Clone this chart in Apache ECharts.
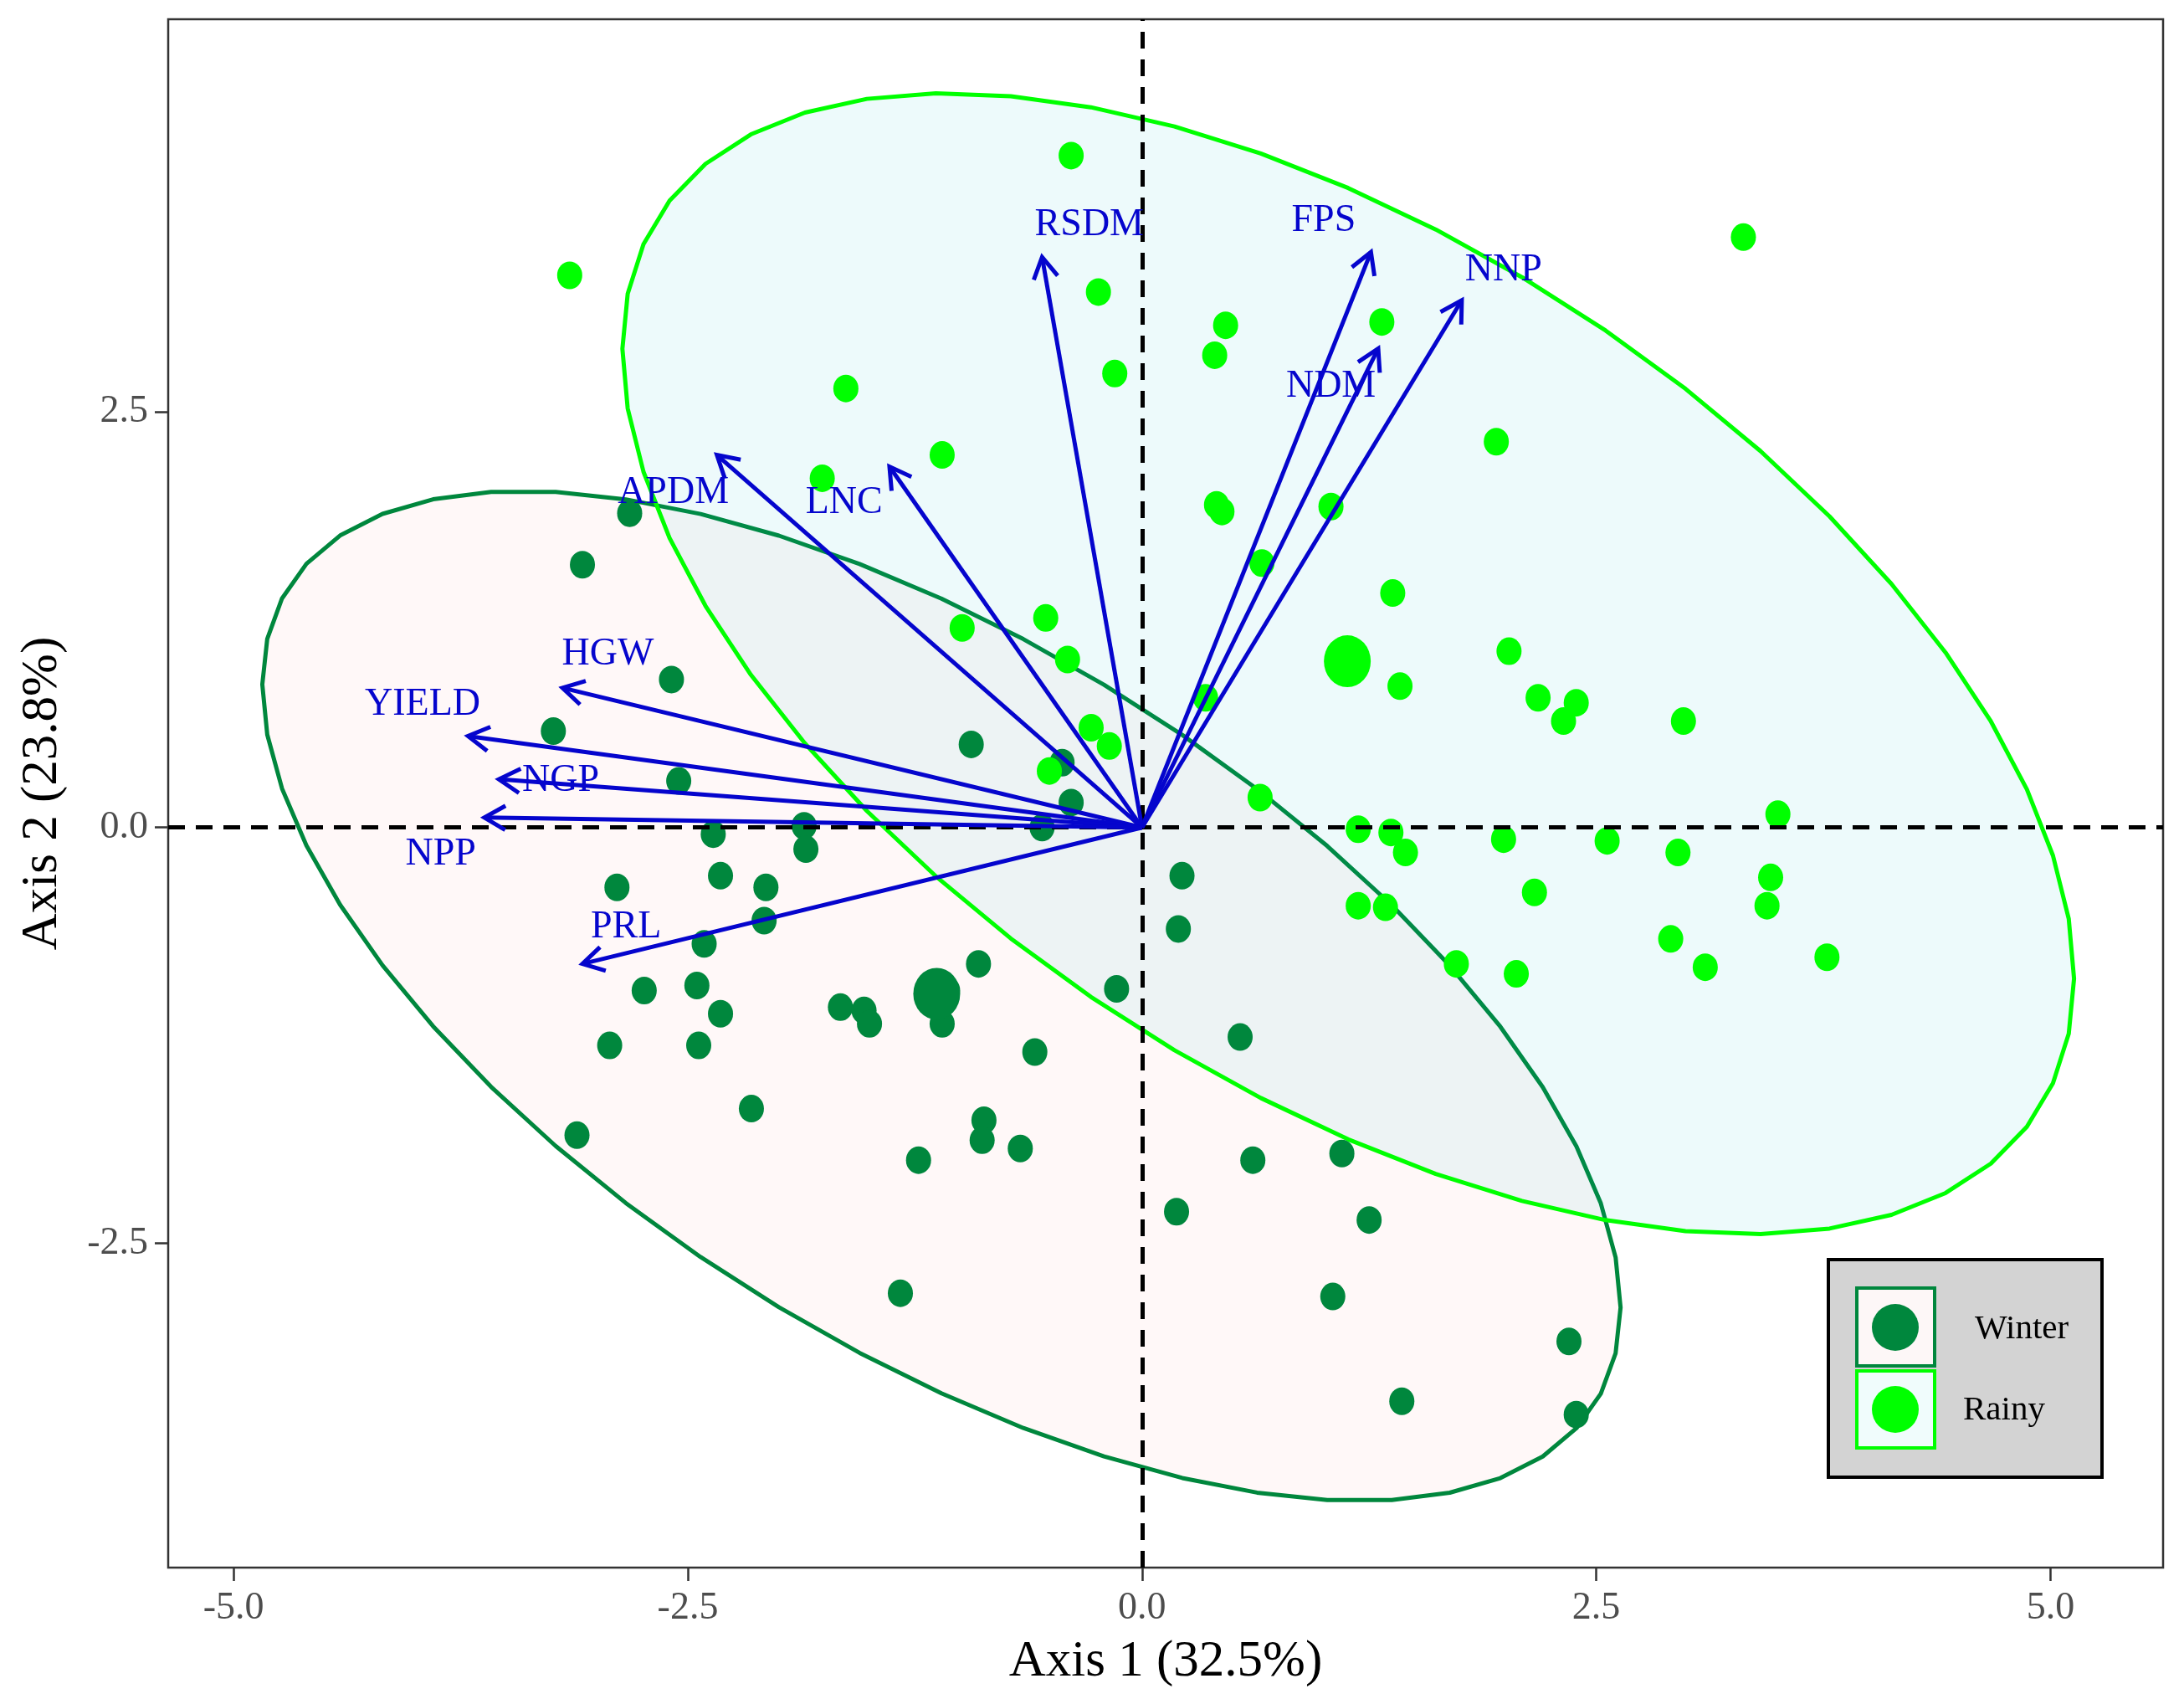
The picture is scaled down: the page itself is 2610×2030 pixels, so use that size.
<!DOCTYPE html>
<html>
<head>
<meta charset="utf-8">
<script src="https://cdn.jsdelivr.net/npm/echarts@6/dist/echarts.min.js"></script>
<style>
  html, body { margin: 0; padding: 0; background: #fff; }
  #biplot { width: 2610px; height: 2030px; }
</style>
</head>
<body>
<div id="biplot"></div>
<script>
// sample scores, winter season
var winterX = [-2.82, -3.08, -2.59, -3.24, -2.55, -2.36, -1.86, -1.85, -2.32, -2.07, -2.89, -2.08, -2.41, -2.74, -2.45, -2.32,
  -2.93, -2.44, -2.15, -3.11, -1.66, -1.53, -1.50, -1.07, -1.10, -0.90, -0.94, -0.44, -0.39, -0.55, -0.14, -0.59,
  -0.87, -0.88, -0.67, -1.23, -1.33, 0.22, 0.20, 0.54, 0.61, 1.10, 0.19, 1.25, 1.05, 1.43, 2.35, 2.39];
var winterY = [1.89, 1.58, 0.89, 0.58, 0.28, -0.04, 0.01, -0.13, -0.29, -0.36, -0.36, -0.56, -0.70, -0.98, -0.95, -1.12,
  -1.31, -1.31, -1.69, -1.85, -1.08, -1.10, -1.18, -0.98, -1.18, -0.82, 0.50, 0.39, 0.15, 0.00, -0.97, -1.35,
  -1.76, -1.88, -1.93, -2.00, -2.80, -0.29, -0.61, -1.26, -2.00, -1.96, -2.31, -2.36, -2.82, -3.45, -3.09, -3.53];

// sample scores, rainy season
var rainyX = [-0.39, -3.15, 3.31, -0.24, 1.32, 0.46, 0.40, -0.15, -1.63, -1.10, -1.76, 1.95, 0.41, 0.44, 1.04, 0.66,
  1.38, -0.53, -0.99, -0.41, 2.02, 1.42, 2.18, 2.39, 2.32, 2.98, 0.35, -0.28, -0.18, -0.51, 0.65, 1.19,
  1.37, 1.45, 1.99, 2.56, 2.95, 3.50, 3.46, 3.44, 2.16, 1.19, 1.34, 1.73, 2.06, 2.91, 3.10, 3.77];
var rainyY = [4.04, 3.32, 3.55, 3.22, 3.04, 3.02, 2.84, 2.73, 2.64, 2.24, 2.10, 2.32, 1.94, 1.90, 1.93, 1.59,
  1.41, 1.26, 1.20, 1.01, 1.06, 0.85, 0.78, 0.75, 0.64, 0.64, 0.78, 0.60, 0.49, 0.34, 0.18, -0.01,
  -0.03, -0.15, -0.07, -0.08, -0.15, 0.08, -0.30, -0.47, -0.39, -0.47, -0.48, -0.82, -0.88, -0.67, -0.84, -0.78];

// group means
var winterMean = [-1.13, -1.00];
var rainyMean = [1.13, 1.00];

// ellipses: centre x, centre y, half width, half height, phase (deg)
var winterEllipse = [-1.104, -1.013, 3.738, 3.036, 51.9];
var rainyEllipse = [1.135, 0.985, 3.995, 3.43, 56.5];

// variable loadings
var varNames = ['RSDM', 'FPS', 'NNP', 'NDM', 'APDM', 'LNC', 'HGW', 'YIELD', 'NGP', 'NPP', 'PRL'];
var varX = [-0.55, 1.26, 1.76, 1.30, -2.34, -1.39, -3.19, -3.71, -3.54, -3.62, -3.08];
var varY = [3.43, 3.46, 3.17, 2.88, 2.24, 2.17, 0.84, 0.55, 0.29, 0.06, -0.82];
var labX = [-0.29, 1.00, 1.99, 1.04, -2.58, -1.64, -2.94, -3.96, -3.20, -3.86, -2.84];
var labY = [3.62, 3.65, 3.35, 2.65, 2.01, 1.95, 1.04, 0.74, 0.28, -0.16, -0.60];

var ticksX = [-5, -2.5, 0, 2.5, 5];
var ticksY = [-2.5, 0, 2.5];

var FONT = 'Liberation Serif';
var DARK = '#00873D';
var LIME = '#00FF00';
var BLUE = '#0505CD';

function pairs(xs, ys) {
  return xs.map(function (x, i) { return [x, ys[i]]; });
}

function ellipseSeries(par, fill, stroke, z) {
  return {
    type: 'custom',
    silent: true,
    z: z,
    data: [[par[0], par[1]]],
    renderItem: function (params, api) {
      var pts = [];
      var d = par[4] * Math.PI / 180;
      for (var i = 0; i < 52; i++) {
        var t = 2 * Math.PI * i / 52;
        pts.push(api.coord([par[0] + par[2] * Math.cos(t), par[1] - par[3] * Math.cos(t + d)]));
      }
      return {
        type: 'polygon',
        shape: { points: pts },
        style: { fill: fill, stroke: stroke, lineWidth: 5, lineJoin: 'round' }
      };
    }
  };
}

var myChart = echarts.init(document.getElementById('biplot'));

var option = {
  backgroundColor: '#ffffff',
  animation: false,
  grid: {
    left: 201, right: 25, top: 23, bottom: 157,
    show: true, borderColor: '#333333', borderWidth: 2.5, backgroundColor: 'transparent'
  },
  xAxis: {
    type: 'value',
    min: -5.36, max: 5.62,
    name: 'Axis 1 (32.5%)',
    nameLocation: 'middle',
    nameGap: 82,
    nameTextStyle: { fontFamily: FONT, fontSize: 61, color: '#000' },
    axisLine: { show: false, onZero: false },
    axisTick: { show: true, customValues: ticksX, length: 16, lineStyle: { color: '#333', width: 2.5 } },
    axisLabel: {
      customValues: ticksX, fontFamily: FONT, fontSize: 46, color: '#4D4D4D', margin: 26,
      formatter: function (v) { return v.toFixed(1); }
    },
    splitLine: { show: false }
  },
  yAxis: {
    type: 'value',
    min: -4.45, max: 4.86,
    name: 'Axis 2 (23.8%)',
    nameLocation: 'middle',
    nameGap: 120,
    nameTextStyle: { fontFamily: FONT, fontSize: 61, color: '#000' },
    axisLine: { show: false, onZero: false },
    axisTick: { show: true, customValues: ticksY, length: 16, lineStyle: { color: '#333', width: 2.5 } },
    axisLabel: {
      customValues: ticksY, fontFamily: FONT, fontSize: 46, color: '#4D4D4D', margin: 24,
      formatter: function (v) { return v.toFixed(1); }
    },
    splitLine: { show: false }
  },
  series: [
    ellipseSeries(winterEllipse, 'rgba(248,118,109,0.05)', DARK, 1),
    ellipseSeries(rainyEllipse, 'rgba(0,191,196,0.07)', LIME, 2),
    {
      // reference lines through the origin
      type: 'scatter',
      data: [],
      z: 3,
      markLine: {
        silent: true,
        symbol: 'none',
        label: { show: false },
        lineStyle: { color: '#000', type: [20, 13], width: 5 },
        data: [{ xAxis: 0 }, { yAxis: 0 }]
      }
    },
    {
      name: 'Winter',
      type: 'scatter',
      z: 4,
      symbol: 'circle',
      symbolSize: [30, 33],
      itemStyle: { color: DARK, opacity: 1 },
      data: pairs(winterX, winterY)
    },
    {
      name: 'Rainy',
      type: 'scatter',
      z: 4,
      symbol: 'circle',
      symbolSize: [30, 33],
      itemStyle: { color: LIME, opacity: 1 },
      data: pairs(rainyX, rainyY)
    },
    {
      name: 'Winter',
      type: 'scatter',
      z: 4,
      symbolSize: [56, 62],
      itemStyle: { color: DARK, opacity: 1 },
      data: [winterMean]
    },
    {
      name: 'Rainy',
      type: 'scatter',
      z: 4,
      symbolSize: [56, 62],
      itemStyle: { color: LIME, opacity: 1 },
      data: [rainyMean]
    },
    {
      // loading arrows
      type: 'custom',
      z: 5,
      silent: true,
      data: pairs(varX, varY),
      renderItem: function (params, api) {
        var o = api.coord([0, 0]);
        var p = api.coord([api.value(0), api.value(1)]);
        var ang = Math.atan2(p[1] - o[1], p[0] - o[0]);
        var L = 29, a = Math.PI / 6;
        var h1 = [p[0] - L * Math.cos(ang - a), p[1] - L * Math.sin(ang - a)];
        var h2 = [p[0] - L * Math.cos(ang + a), p[1] - L * Math.sin(ang + a)];
        var st = { stroke: BLUE, lineWidth: 5, fill: null };
        return {
          type: 'group',
          children: [
            { type: 'line', shape: { x1: o[0], y1: o[1], x2: p[0], y2: p[1] }, style: st },
            { type: 'polyline', shape: { points: [h1, p, h2] }, style: st }
          ]
        };
      }
    },
    {
      // loading labels
      type: 'scatter',
      z: 6,
      silent: true,
      symbolSize: 2,
      itemStyle: { color: 'rgba(0,0,0,0)', opacity: 1 },
      label: {
        show: true, position: 'inside', formatter: '{b}',
        fontFamily: FONT, fontSize: 46, color: BLUE
      },
      labelLayout: { hideOverlap: false },
      data: varNames.map(function (n, i) { return { name: n, value: [labX[i], labY[i]] }; })
    }
  ],
  graphic: [
    { type: 'rect', z: 100, shape: { x: 2185, y: 1505, width: 327, height: 260 },
      style: { fill: '#D3D3D3', stroke: '#000', lineWidth: 4 } },
    { type: 'rect', z: 101, shape: { x: 2219, y: 1539, width: 93, height: 93 },
      style: { fill: '#FDF7F7', stroke: DARK, lineWidth: 4 } },
    { type: 'rect', z: 101, shape: { x: 2219, y: 1638, width: 93, height: 92 },
      style: { fill: '#F0FCFC', stroke: LIME, lineWidth: 4 } },
    { type: 'circle', z: 102, shape: { cx: 2265, cy: 1586, r: 28 }, style: { fill: DARK } },
    { type: 'circle', z: 102, shape: { cx: 2265, cy: 1684, r: 28 }, style: { fill: LIME } },
    { type: 'text', z: 102, x: 2360, y: 1588,
      style: { text: 'Winter', font: '41px "Liberation Serif"', fill: '#000', verticalAlign: 'middle' } },
    { type: 'text', z: 102, x: 2346, y: 1685,
      style: { text: 'Rainy', font: '41px "Liberation Serif"', fill: '#000', verticalAlign: 'middle' } }
  ]
};

myChart.setOption(option);
</script>
</body>
</html>
